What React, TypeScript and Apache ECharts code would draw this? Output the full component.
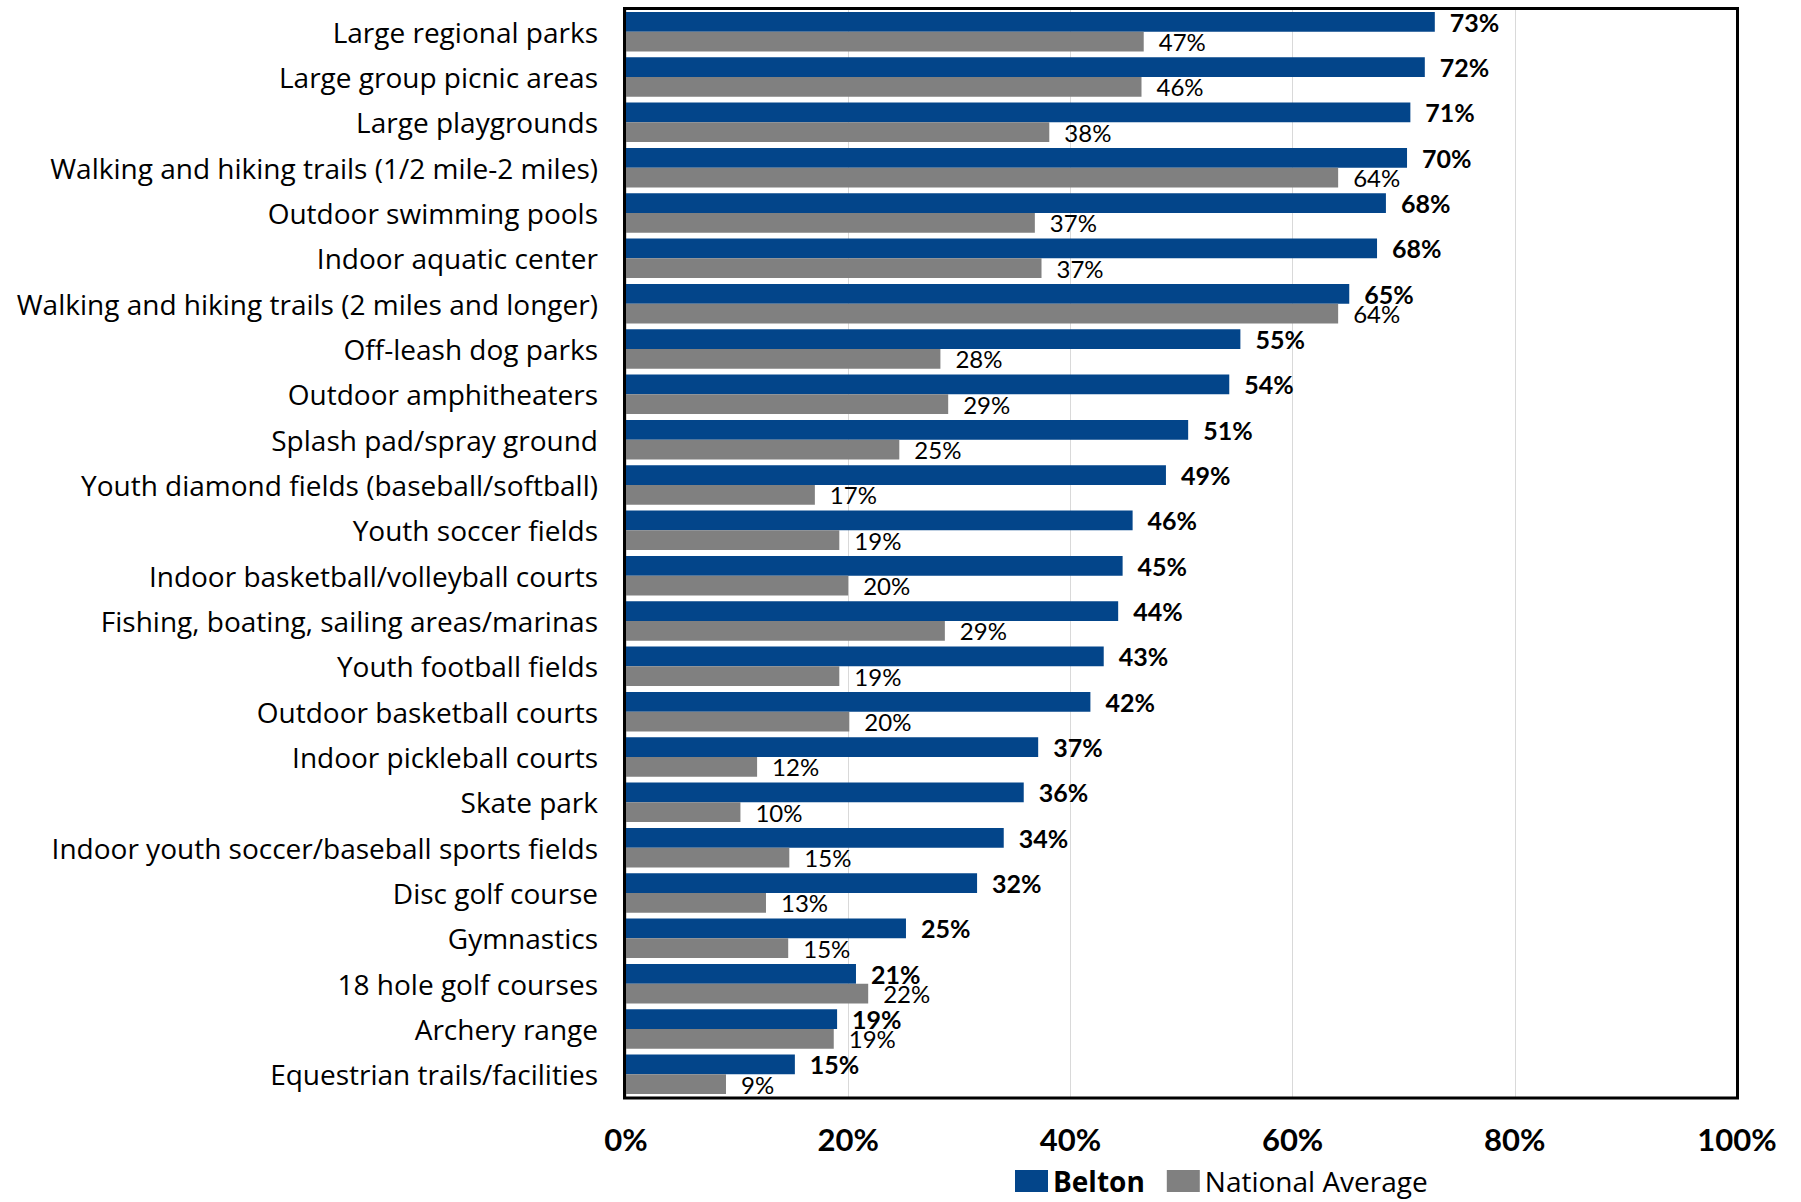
import React, { useEffect, useRef } from "react";
import * as echarts from "echarts";

const categories: string[] = [
  "Large regional parks",
  "Large group picnic areas",
  "Large playgrounds",
  "Walking and hiking trails (1/2 mile-2 miles)",
  "Outdoor swimming pools",
  "Indoor aquatic center",
  "Walking and hiking trails (2 miles and longer)",
  "Off-leash dog parks",
  "Outdoor amphitheaters",
  "Splash pad/spray ground",
  "Youth diamond fields (baseball/softball)",
  "Youth soccer fields",
  "Indoor basketball/volleyball courts",
  "Fishing, boating, sailing areas/marinas",
  "Youth football fields",
  "Outdoor basketball courts",
  "Indoor pickleball courts",
  "Skate park",
  "Indoor youth soccer/baseball sports fields",
  "Disc golf course",
  "Gymnastics",
  "18 hole golf courses",
  "Archery range",
  "Equestrian trails/facilities",
];

const belton: number[] = [
  72.8, 71.9, 70.6, 70.3, 68.4, 67.6, 65.1, 55.3, 54.3, 50.6, 48.6, 45.6,
  44.7, 44.3, 43.0, 41.8, 37.1, 35.8, 34.0, 31.6, 25.2, 20.7, 19.0, 15.2,
];

const nationalAverage: number[] = [
  46.6, 46.4, 38.1, 64.1, 36.8, 37.4, 64.1, 28.3, 29.0, 24.6, 17.0, 19.2,
  20.0, 28.7, 19.2, 20.1, 11.8, 10.3, 14.7, 12.6, 14.6, 21.8, 18.7, 9.0,
];

const xTicks: number[] = [0, 20, 40, 60, 80, 100];

const FONT = "Lato";
const TEXT_FONT = "Open Sans";

export default function App() {
  const ref = useRef<HTMLDivElement>(null);

  useEffect(() => {
    if (!ref.current) return;
    const chart = echarts.init(ref.current, undefined, { renderer: "svg" });
    const pct = (p: any) => Math.round(p.value) + "%";
    chart.setOption({
      animation: false,
      backgroundColor: "#ffffff",
      textStyle: { fontFamily: FONT },
      grid: {
        left: 626,
        top: 9,
        width: 1111,
        height: 1088,
        containLabel: false,
      },
      graphic: [
        {
          type: "rect",
          z: 100,
          shape: { x: 624.5, y: 8.5, width: 1113, height: 1089.5 },
          style: { fill: "none", stroke: "#000000", lineWidth: 3 },
        },
      ],
      legend: {
        left: 1015,
        top: 1167,
        padding: 0,
        itemWidth: 33,
        itemHeight: 22,
        itemGap: 22,
        icon: "rect",
        textStyle: {
          fontSize: 28,
          color: "#000000",
          fontFamily: TEXT_FONT,
        },
        data: [
          { name: "Belton", textStyle: { fontWeight: "bold" } },
          { name: "National Average" },
        ],
      },
      xAxis: {
        type: "value",
        min: xTicks[0],
        max: xTicks[xTicks.length - 1],
        interval: xTicks[1] - xTicks[0],
        axisLine: { show: false },
        axisTick: { show: false },
        splitLine: { show: true, lineStyle: { color: "#d9d9d9", width: 1 } },
        axisLabel: {
          formatter: "{value}%",
          fontSize: 31,
          fontWeight: "bold",
          color: "#000000",
          fontFamily: FONT,
          margin: 26,
        },
      },
      yAxis: {
        type: "category",
        data: categories,
        inverse: true,
        axisLine: { show: false },
        axisTick: { show: false },
        splitLine: { show: false },
        axisLabel: {
          fontSize: 28,
          color: "#000000",
          fontFamily: TEXT_FONT,
          margin: 28,
          interval: 0,
        },
      },
      series: [
        {
          name: "Belton",
          type: "bar",
          data: belton,
          barGap: "0%",
          barCategoryGap: "13%",
          itemStyle: { color: "#03458a" },
          label: {
            show: true,
            position: "right",
            distance: 15,
            formatter: pct,
            fontSize: 25,
            fontWeight: "bold",
            color: "#000000",
            fontFamily: FONT,
          },
        },
        {
          name: "National Average",
          type: "bar",
          data: nationalAverage,
          barGap: "0%",
          barCategoryGap: "13%",
          itemStyle: { color: "#808080" },
          label: {
            show: true,
            position: "right",
            distance: 15,
            formatter: pct,
            fontSize: 24,
            color: "#000000",
            fontFamily: FONT,
          },
        },
      ],
    });
    return () => chart.dispose();
  }, []);

  return (
    <div
      ref={ref}
      style={{ position: "fixed", left: 0, top: 0, width: 1801, height: 1202 }}
    />
  );
}
